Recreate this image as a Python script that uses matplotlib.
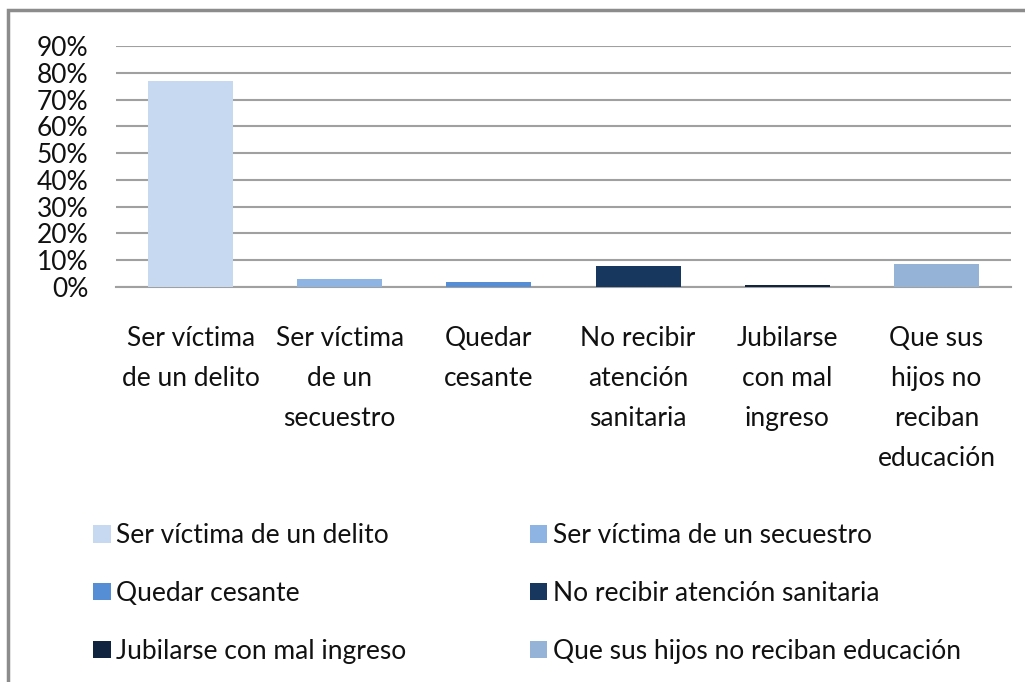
import matplotlib.pyplot as plt
from matplotlib.patches import Rectangle, Patch
from matplotlib.ticker import PercentFormatter

plt.rcParams['font.family'] = ['Lato', 'DejaVu Sans']

categories = ['Ser víctima de un delito', 'Ser víctima de un secuestro',
              'Quedar cesante', 'No recibir atención sanitaria',
              'Jubilarse con mal ingreso', 'Que sus hijos no reciban educación']
tick_labels = ['Ser víctima\nde un delito', 'Ser víctima\nde un\nsecuestro',
               'Quedar\ncesante', 'No recibir\natención\nsanitaria',
               'Jubilarse\ncon mal\ningreso', 'Que sus\nhijos no\nreciban\neducación']
values = [0.77, 0.03, 0.02, 0.08, 0.007, 0.085]
colors = ['#C6D9F1', '#8DB4E2', '#558ED5', '#17375E', '#10243F', '#95B3D7']

fig = plt.figure(figsize=(10.25, 6.82), dpi=100)
ax = fig.add_axes([0.1132, 0.5792, 0.8731, 0.3534])

x = range(len(categories))
ax.bar(x, values, width=0.57, color=colors, zorder=3)

ax.set_xlim(-0.5, len(categories) - 0.5)
ax.set_ylim(0, 0.9)
ax.set_yticks([i / 10 for i in range(10)])
ax.yaxis.set_major_formatter(PercentFormatter(1.0, decimals=0))
ax.set_xticks(list(x))
ax.set_xticklabels(tick_labels, linespacing=1.75, va='top')
ax.tick_params(axis='x', length=0, pad=28, labelsize=19, colors='#111111')
ax.tick_params(axis='y', length=0, pad=20, labelsize=19, colors='#111111')
ax.grid(axis='y', color='#A0A0A0', linewidth=1.5, zorder=0)
for s in ['top', 'right', 'left']:
    ax.spines[s].set_visible(False)
ax.spines['bottom'].set_color('#A0A0A0')
ax.spines['bottom'].set_linewidth(1.5)

# outer chart frame
fig.patches.append(Rectangle((8 / 1025, -0.05), 1.1, 1 - 10 / 682 + 0.05,
                             transform=fig.transFigure, fill=False,
                             edgecolor='#8C8C8C', linewidth=2.5))

handles = [Patch(facecolor=c, edgecolor='none', label=l) for c, l in zip(colors, categories)]
order = [0, 2, 4, 1, 3, 5]
fig.legend([handles[i] for i in order], [categories[i] for i in order],
           ncol=2, loc='upper left', bbox_to_anchor=(0.068, 0.268),
           frameon=False, fontsize=19, handlelength=0.65, handleheight=0.65,
           handletextpad=0.2, labelspacing=1.25, columnspacing=4.7,
           labelcolor='#111111')

fig.savefig('out.png', dpi=100)
